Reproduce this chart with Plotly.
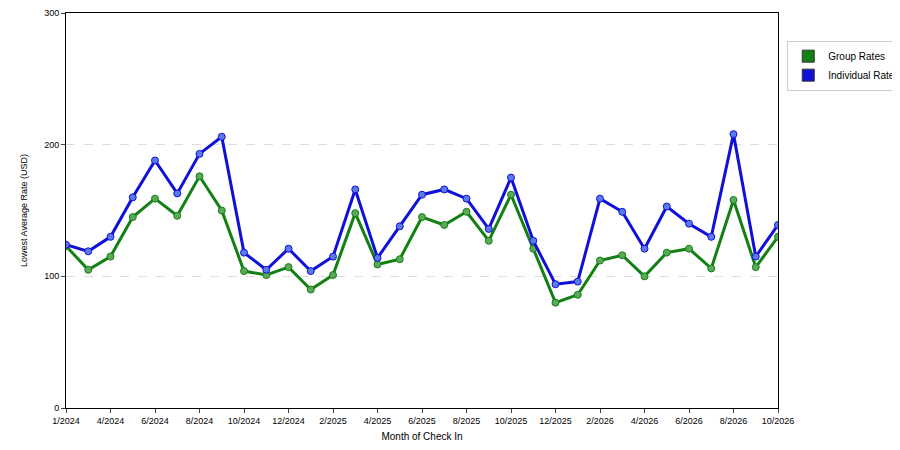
import plotly.graph_objects as go

months = ["1/2024","3/2024"] + [f"{m}/2024" for m in range(4,13)] + [f"{m}/2025" for m in range(1,13)] + [f"{m}/2026" for m in range(1,11)]
group_rates = [123,105,115,145,159,146,176,150,104,101,107,90,101,148,109,113,145,139,149,127,162,121,80,86,112,116,100,118,121,106,158,107,130]
individual_rates = [124,119,130,160,188,163,193,206,118,105,121,104,115,166,114,138,162,166,159,136,175,127,94,96,159,149,121,153,140,130,208,115,139]
tick_labels = ["1/2024","4/2024","6/2024","8/2024","10/2024","12/2024","2/2025","4/2025","6/2025","8/2025","10/2025","12/2025","2/2026","4/2026","6/2026","8/2026","10/2026"]

x = list(range(len(months)))
tickvals = [months.index(t) for t in tick_labels]

fig = go.Figure()
for name, vals, col, mk in [("Group Rates", group_rates, "#138013", "#5aa85a"),
                            ("Individual Rates", individual_rates, "#1010d8", "#5a7ae8")]:
    fig.add_trace(go.Scatter(x=x, y=vals, name=name, mode="lines+markers", showlegend=False,
                             line=dict(color=col, width=3),
                             marker=dict(size=7, color=mk, line=dict(color=col, width=1))))
    fig.add_trace(go.Scatter(x=[None], y=[None], name=name, mode="markers",
                             marker=dict(symbol="square", size=12, color=col, line=dict(color="#333", width=1))))

fig.update_layout(
    width=900, height=450, margin=dict(l=58, r=130, t=5, b=50, autoexpand=False),
    plot_bgcolor="white", paper_bgcolor="white",
    font=dict(family="Liberation Sans, Arial", size=10, color="#000"),
    legend=dict(x=1.013, y=0.93, xanchor="left", yanchor="top", bordercolor="#ccc", borderwidth=1,
                font=dict(size=10), itemwidth=30, tracegroupgap=2),
    xaxis=dict(title=dict(text="Month of Check In", font=dict(size=10), standoff=8),
               tickvals=tickvals, ticktext=tick_labels, range=[0, len(months)-1], automargin=False,
               showgrid=False, showline=True, linecolor="#000", mirror=True,
               ticks="outside", ticklen=4, tickfont=dict(size=9), zeroline=False),
    yaxis=dict(title=dict(text="Lowest Average Rate (USD)", font=dict(size=9)), range=[0,300], automargin=False,
               tickvals=[0,100,200,300], showgrid=True, gridcolor="#ddd", griddash="dash",
               showline=True, linecolor="#000", mirror=True, ticks="outside", ticklen=4,
               tickfont=dict(size=9), zeroline=False),
)
fig.write_html("out.html")
